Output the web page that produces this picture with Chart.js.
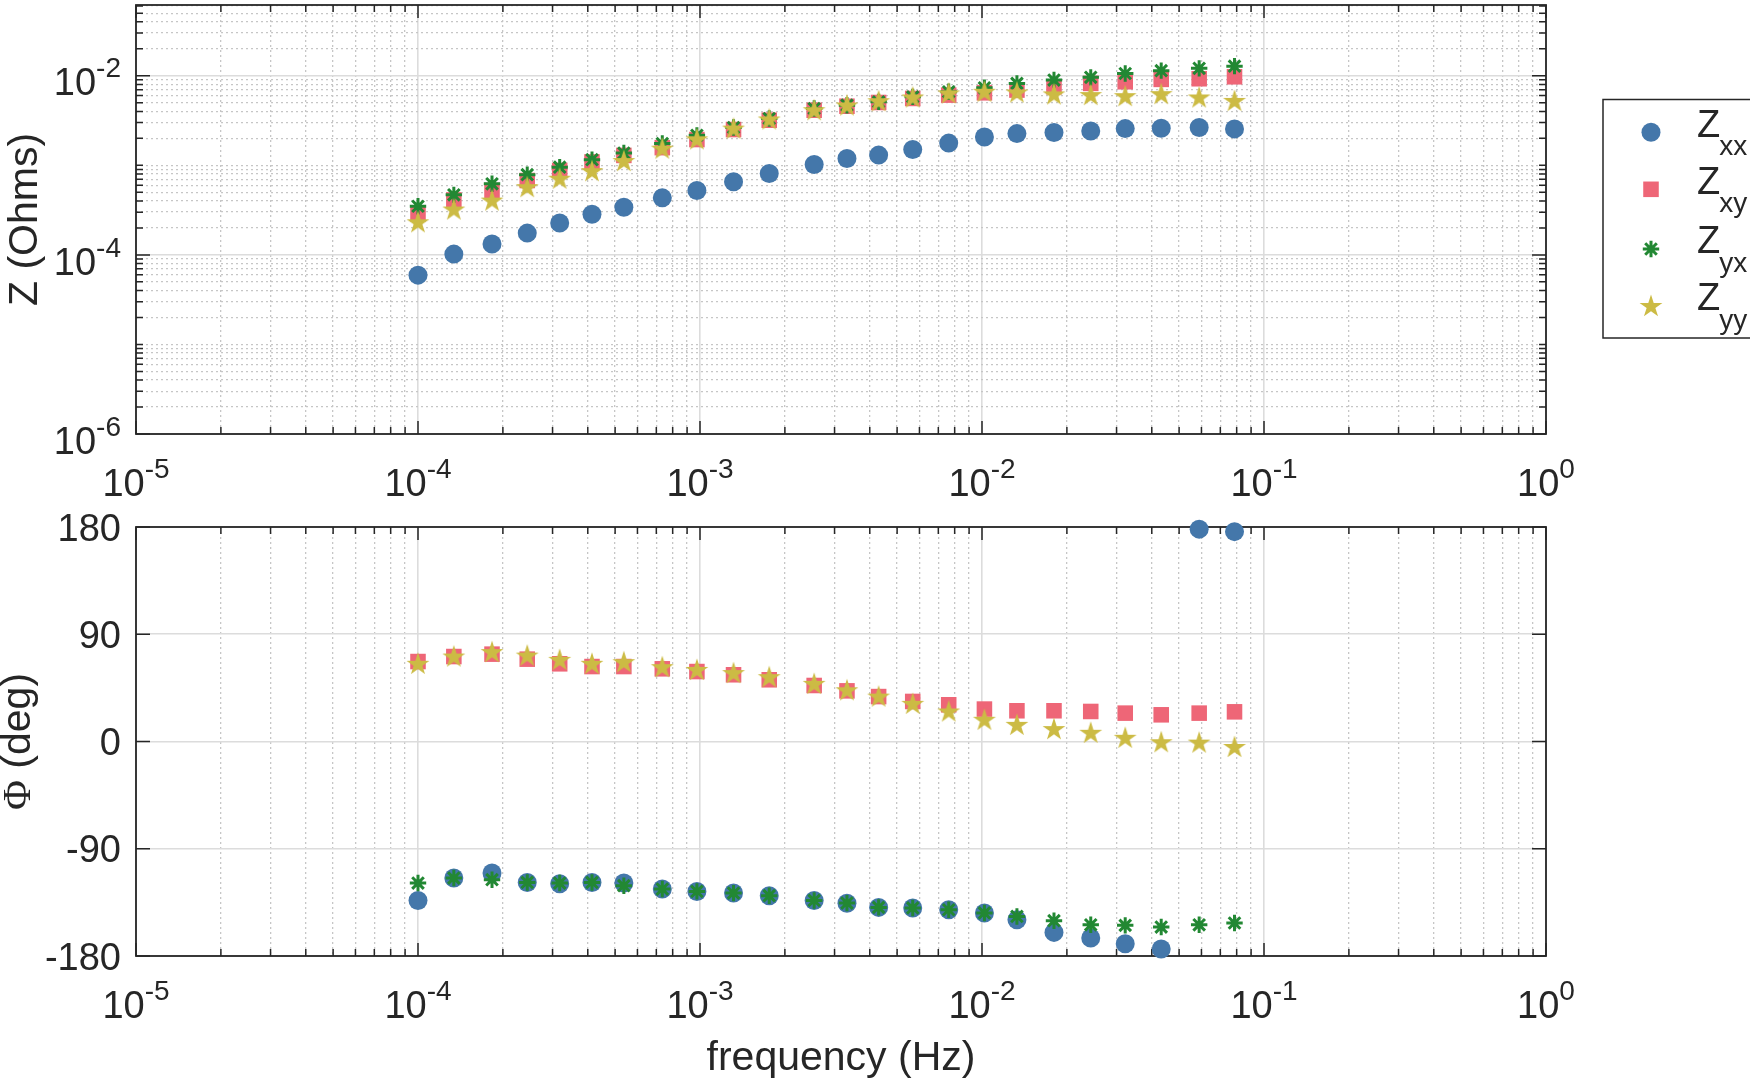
<!DOCTYPE html>
<html>
<head>
<meta charset="utf-8">
<title>Impedance magnitude and phase</title>
<script src="https://cdn.jsdelivr.net/npm/chart.js@4.4.1/dist/chart.umd.min.js"></script>
<style>
  html, body { margin: 0; padding: 0; background: #fff; }
  #wrap { position: relative; width: 1750px; height: 1081px; overflow: hidden; }
  #wrap canvas { position: absolute; left: 0; top: 0; }
</style>
</head>
<body>
<div id="wrap">
  <canvas id="magChart" width="1750" height="1081"></canvas>
  <canvas id="phaseChart" width="1750" height="1081"></canvas>
</div>
<script>
// frequencies (Hz), shared by both panels
const freq = [1.00e-4, 1.34e-4, 1.83e-4, 2.44e-4, 3.18e-4, 4.14e-4, 5.37e-4, 7.35e-4,
              9.75e-4, 1.315e-3, 1.76e-3, 2.54e-3, 3.32e-3, 4.30e-3, 5.68e-3, 7.62e-3,
              1.02e-2, 1.33e-2, 1.80e-2, 2.43e-2, 3.22e-2, 4.32e-2, 5.89e-2, 7.86e-2];

// |Z| (Ohms)
const zxxMag = [5.94e-5, 1.02e-4, 1.32e-4, 1.75e-4, 2.27e-4, 2.84e-4, 3.40e-4, 4.33e-4,
                5.23e-4, 6.55e-4, 8.11e-4, 1.02e-3, 1.19e-3, 1.30e-3, 1.50e-3, 1.77e-3,
                2.07e-3, 2.26e-3, 2.32e-3, 2.42e-3, 2.57e-3, 2.59e-3, 2.64e-3, 2.55e-3];
const zxyMag = [2.87e-4, 4.11e-4, 5.23e-4, 6.77e-4, 8.77e-4, 1.09e-3, 1.29e-3, 1.575e-3,
                1.94e-3, 2.51e-3, 3.19e-3, 4.12e-3, 4.57e-3, 5.03e-3, 5.58e-3, 6.08e-3,
                6.45e-3, 6.92e-3, 7.53e-3, 8.22e-3, 8.57e-3, 9.11e-3, 9.26e-3, 9.74e-3];
const zyxMag = [3.49e-4, 4.68e-4, 6.22e-4, 7.85e-4, 9.54e-4, 1.156e-3, 1.37e-3, 1.75e-3,
                2.16e-3, 2.64e-3, 3.33e-3, 4.31e-3, 4.69e-3, 5.11e-3, 5.81e-3, 6.62e-3,
                7.34e-3, 8.22e-3, 8.95e-3, 9.6e-3, 1.06e-2, 1.14e-2, 1.21e-2, 1.28e-2];
const zyyMag = [2.31e-4, 3.21e-4, 4.04e-4, 5.70e-4, 7.08e-4, 8.61e-4, 1.114e-3, 1.535e-3,
                1.95e-3, 2.57e-3, 3.25e-3, 4.12e-3, 4.66e-3, 5.2e-3, 5.72e-3, 6.35e-3,
                6.62e-3, 6.51e-3, 6.19e-3, 6.08e-3, 5.92e-3, 6.23e-3, 5.72e-3, 5.24e-3];

// phase (deg)
const zxxPhase = [-133.4, -114.6, -110.4, -118.3, -119.4, -118.3, -118.8, -123.8,
                  -125.8, -127.2, -129.4, -133.4, -135.8, -139.2, -139.7, -141.2,
                  -143.9, -149.6, -160.2, -164.9, -169.7, -174.1, 178.2, 176.1];
const zxyPhase = [67.1, 71.3, 73.3, 69.1, 65.2, 62.9, 62.9, 61.0,
                  58.7, 56.0, 51.8, 47.0, 42.5, 37.7, 33.6, 30.8,
                  27.2, 25.8, 25.8, 25.2, 23.8, 22.4, 23.8, 24.9];
const zyxPhase = [-118.8, -114.6, -116.0, -118.3, -118.8, -118.3, -121.0, -123.8,
                  -125.8, -127.2, -129.4, -133.4, -135.6, -139.2, -139.7, -141.2,
                  -143.9, -146.8, -150.4, -153.8, -154.3, -155.7, -153.8, -152.3];
const zyyPhase = [65.2, 71.3, 75.0, 72.1, 68.5, 65.2, 66.6, 62.4,
                  60.1, 57.4, 54.0, 48.4, 43.0, 37.7, 31.6, 25.2,
                  18.2, 14.0, 10.4, 7.3, 3.1, -0.6, -0.9, -4.6];

const seriesSubs = ['xx', 'xy', 'yx', 'yy'];
const freqTickExps = [-5, -4, -3, -2, -1, 0];
const magTickExps = [-6, -4, -2];
const phaseTicks = [-180, -90, 0, 90, 180];

const BLUE = '#4477AA', RED = '#EE6677', GREEN = '#228833', YELLOW = '#CCBB44';
const INK = '#262626';
const SANS = '"Liberation Sans", Arial, Helvetica, sans-serif';
const TICK_FONT = '38px ' + SANS;
const SUP_FONT = '28px ' + SANS;
const LABEL_FONT = '41px ' + SANS;

function pts(ys) {
    return freq.map((f, i) => ({ x: f, y: ys[i] }));
}

// filled five-point star used for the Zyy marker
function makePentagram(R, color) {
    const size = Math.ceil(2 * R + 4);
    const c = document.createElement('canvas');
    c.width = size; c.height = size;
    const g = c.getContext('2d');
    const cx = size / 2, cy = size / 2 + R * 0.05;
    g.beginPath();
    for (let k = 0; k < 10; k++) {
        const r = k % 2 === 0 ? R : R * 0.382;
        const a = -Math.PI / 2 + k * Math.PI / 5;
        const px = cx + r * Math.cos(a), py = cy + r * Math.sin(a);
        if (k === 0) g.moveTo(px, py); else g.lineTo(px, py);
    }
    g.closePath();
    g.fillStyle = color;
    g.fill();
    return c;
}
const starImg = makePentagram(12, YELLOW);

// log ticks 1..9 x 10^e, major only on the given decades
function logTicks(minExp, maxVal, majorExps) {
    const out = [];
    for (let e = minExp; e <= 1; e++) {
        for (let m = 1; m <= 9; m++) {
            const v = m * Math.pow(10, e);
            if (v > maxVal * 1.0001) return out;
            out.push({ value: v, major: m === 1 && majorExps.includes(e) });
        }
    }
    return out;
}

function makeDatasets(a, b, c, d) {
    return [
        { label: 'Zxx', data: pts(a), pointStyle: 'circle', pointRadius: 9.5, backgroundColor: BLUE, borderColor: BLUE, borderWidth: 0, order: 3, clip: false },
        { label: 'Zxy', data: pts(b), pointStyle: 'rect', pointRadius: 11, backgroundColor: RED, borderColor: RED, borderWidth: 0, order: 2, clip: false },
        { label: 'Zyx', data: pts(c), pointStyle: 'star', pointRadius: 8.2, backgroundColor: GREEN, borderColor: GREEN, borderWidth: 3, order: 1, clip: false },
        { label: 'Zyy', data: pts(d), pointStyle: starImg, pointRadius: 11, backgroundColor: YELLOW, borderColor: YELLOW, borderWidth: 0, order: 0, clip: false }
    ];
}

const gridColor = ctx => (ctx.tick && ctx.tick.major) ? '#dcdcdc' : '#c6c6c6';
const gridWidth = ctx => (ctx.tick && ctx.tick.major) ? 1.6 : 1.3;
const gridDash = ctx => (ctx.tick && !ctx.tick.major) ? [2, 3] : [];

function xScale() {
    return {
        type: 'logarithmic', min: 1e-5, max: 1,
        afterBuildTicks: s => { s.ticks = logTicks(-5, 1, freqTickExps); },
        ticks: { display: false },
        grid: { drawTicks: false, color: gridColor, lineWidth: gridWidth },
        border: { display: false, dash: gridDash }
    };
}

// "10" with a raised exponent
function drawPow(ctx, exp, x, baseY, align) {
    const e = String(exp);
    ctx.font = TICK_FONT;
    const wb = ctx.measureText('10').width;
    ctx.font = SUP_FONT;
    const we = ctx.measureText(e).width;
    const left = align === 'center' ? x - (wb + we) / 2 : x - (wb + we);
    ctx.textAlign = 'left';
    ctx.textBaseline = 'alphabetic';
    ctx.font = TICK_FONT;
    ctx.fillText('10', left, baseY);
    ctx.font = SUP_FONT;
    ctx.fillText(e, left + wb, baseY - 18);
}

// box and inward tick marks on all four sides
function drawFrame(chart) {
    const ctx = chart.ctx, a = chart.chartArea;
    const xs = chart.scales.x, ys = chart.scales.y;
    ctx.save();
    ctx.strokeStyle = INK;
    ctx.lineWidth = 1.5;
    ctx.beginPath();
    xs.ticks.forEach(t => {
        const px = xs.getPixelForValue(t.value);
        const len = t.major ? 13 : 7;
        ctx.moveTo(px, a.bottom); ctx.lineTo(px, a.bottom - len);
        ctx.moveTo(px, a.top); ctx.lineTo(px, a.top + len);
    });
    ys.ticks.forEach(t => {
        const py = ys.getPixelForValue(t.value);
        const len = t.major ? 14 : 7;
        ctx.moveTo(a.left, py); ctx.lineTo(a.left + len, py);
        ctx.moveTo(a.right, py); ctx.lineTo(a.right - len, py);
    });
    ctx.stroke();
    ctx.lineWidth = 1.8;
    ctx.strokeRect(a.left, a.top, a.right - a.left, a.bottom - a.top);
    ctx.restore();
}

function drawFreqLabels(chart) {
    const ctx = chart.ctx, xs = chart.scales.x;
    ctx.save();
    ctx.fillStyle = INK;
    freqTickExps.forEach(e => {
        drawPow(ctx, e, xs.getPixelForValue(Math.pow(10, e)), chart.chartArea.bottom + 62, 'center');
    });
    ctx.restore();
}

const framePlugin = {
    id: 'matlabFrame',
    beforeDatasetsDraw(chart) { drawFrame(chart); },
    afterDraw(chart) { drawFreqLabels(chart); }
};

const magTextPlugin = {
    id: 'magText',
    afterDraw(chart) {
        const ctx = chart.ctx, a = chart.chartArea, ys = chart.scales.y;
        ctx.save();
        ctx.fillStyle = INK;
        magTickExps.forEach(e => {
            drawPow(ctx, e, 121, ys.getPixelForValue(Math.pow(10, e)) + 19.7, 'right');
        });
        // y title
        ctx.save();
        ctx.translate(37, (a.top + a.bottom) / 2);
        ctx.rotate(-Math.PI / 2);
        ctx.font = LABEL_FONT;
        ctx.textAlign = 'center';
        ctx.textBaseline = 'alphabetic';
        ctx.fillText('Z (Ohms)', 0, 0);
        ctx.restore();
        // legend
        const rows = [132.3, 189.3, 249, 306];
        ctx.fillStyle = '#fff';
        ctx.fillRect(1603, 99.5, 160, 238.5);
        ctx.strokeStyle = INK;
        ctx.lineWidth = 1.5;
        ctx.strokeRect(1603, 99.5, 160, 238.5);
        chart.data.datasets.forEach((ds, i) => {
            const y = rows[i];
            ctx.fillStyle = ds.backgroundColor;
            ctx.strokeStyle = ds.borderColor;
            ctx.lineWidth = ds.borderWidth;
            Chart.helpers.drawPoint(ctx, {
                pointStyle: ds.pointStyle, radius: ds.pointRadius, rotation: 0, borderWidth: ds.borderWidth
            }, 1651, y);
            ctx.fillStyle = INK;
            ctx.textAlign = 'left';
            ctx.textBaseline = 'alphabetic';
            ctx.font = TICK_FONT;
            ctx.fillText('Z', 1697, y + 4.4);
            const wz = ctx.measureText('Z').width;
            ctx.font = SUP_FONT;
            ctx.fillText(seriesSubs[i], 1697 + wz - 1, y + 22.7);
        });
        ctx.restore();
    }
};

const phaseTextPlugin = {
    id: 'phaseText',
    afterDraw(chart) {
        const ctx = chart.ctx, a = chart.chartArea, ys = chart.scales.y;
        ctx.save();
        ctx.fillStyle = INK;
        ctx.font = TICK_FONT;
        ctx.textAlign = 'right';
        ctx.textBaseline = 'alphabetic';
        phaseTicks.forEach(v => {
            ctx.fillText(String(v), 121, ys.getPixelForValue(v) + 13.6);
        });
        // y title: serif Phi + sans text
        ctx.save();
        ctx.translate(30, (a.top + a.bottom) / 2);
        ctx.rotate(-Math.PI / 2);
        const serif = '41px "Liberation Serif", "Times New Roman", serif';
        ctx.font = serif;
        const w1 = ctx.measureText('Φ').width;
        ctx.font = LABEL_FONT;
        const w2 = ctx.measureText(' (deg)').width;
        const x0 = -(w1 + w2) / 2;
        ctx.textAlign = 'left';
        ctx.font = serif;
        ctx.fillText('Φ', x0, 0);
        ctx.font = LABEL_FONT;
        ctx.fillText(' (deg)', x0 + w1, 0);
        ctx.restore();
        // x title
        ctx.font = LABEL_FONT;
        ctx.textAlign = 'center';
        ctx.fillText('frequency (Hz)', (a.left + a.right) / 2, 1070);
        ctx.restore();
    }
};

const commonOpts = {
    responsive: false,
    animation: false,
    events: [],
    plugins: { legend: { display: false }, tooltip: { enabled: false } }
};

// magnitude panel
new Chart(document.getElementById('magChart'), {
    type: 'scatter',
    data: { datasets: makeDatasets(zxxMag, zxyMag, zyxMag, zyyMag) },
    options: Object.assign({}, commonOpts, {
        layout: { autoPadding: false, padding: { left: 136, right: 204, top: 5, bottom: 1081 - 434 } },
        scales: {
            x: xScale(),
            y: {
                type: 'logarithmic', min: 1e-6, max: Math.pow(10, -1.21),
                afterBuildTicks: s => { s.ticks = logTicks(-6, Math.pow(10, -1.21), magTickExps); },
                ticks: { display: false },
                grid: { drawTicks: false, color: gridColor, lineWidth: gridWidth },
                border: { display: false, dash: gridDash }
            }
        }
    }),
    plugins: [framePlugin, magTextPlugin]
});

// phase panel
new Chart(document.getElementById('phaseChart'), {
    type: 'scatter',
    data: { datasets: makeDatasets(zxxPhase, zxyPhase, zyxPhase, zyyPhase) },
    options: Object.assign({}, commonOpts, {
        layout: { autoPadding: false, padding: { left: 136, right: 204, top: 527, bottom: 1081 - 956 } },
        scales: {
            x: xScale(),
            y: {
                type: 'linear', min: -180, max: 180,
                afterBuildTicks: s => { s.ticks = phaseTicks.map(v => ({ value: v, major: true })); },
                ticks: { display: false },
                grid: { drawTicks: false, color: gridColor, lineWidth: gridWidth },
                border: { display: false }
            }
        }
    }),
    plugins: [framePlugin, phaseTextPlugin]
});
</script>
</body>
</html>
